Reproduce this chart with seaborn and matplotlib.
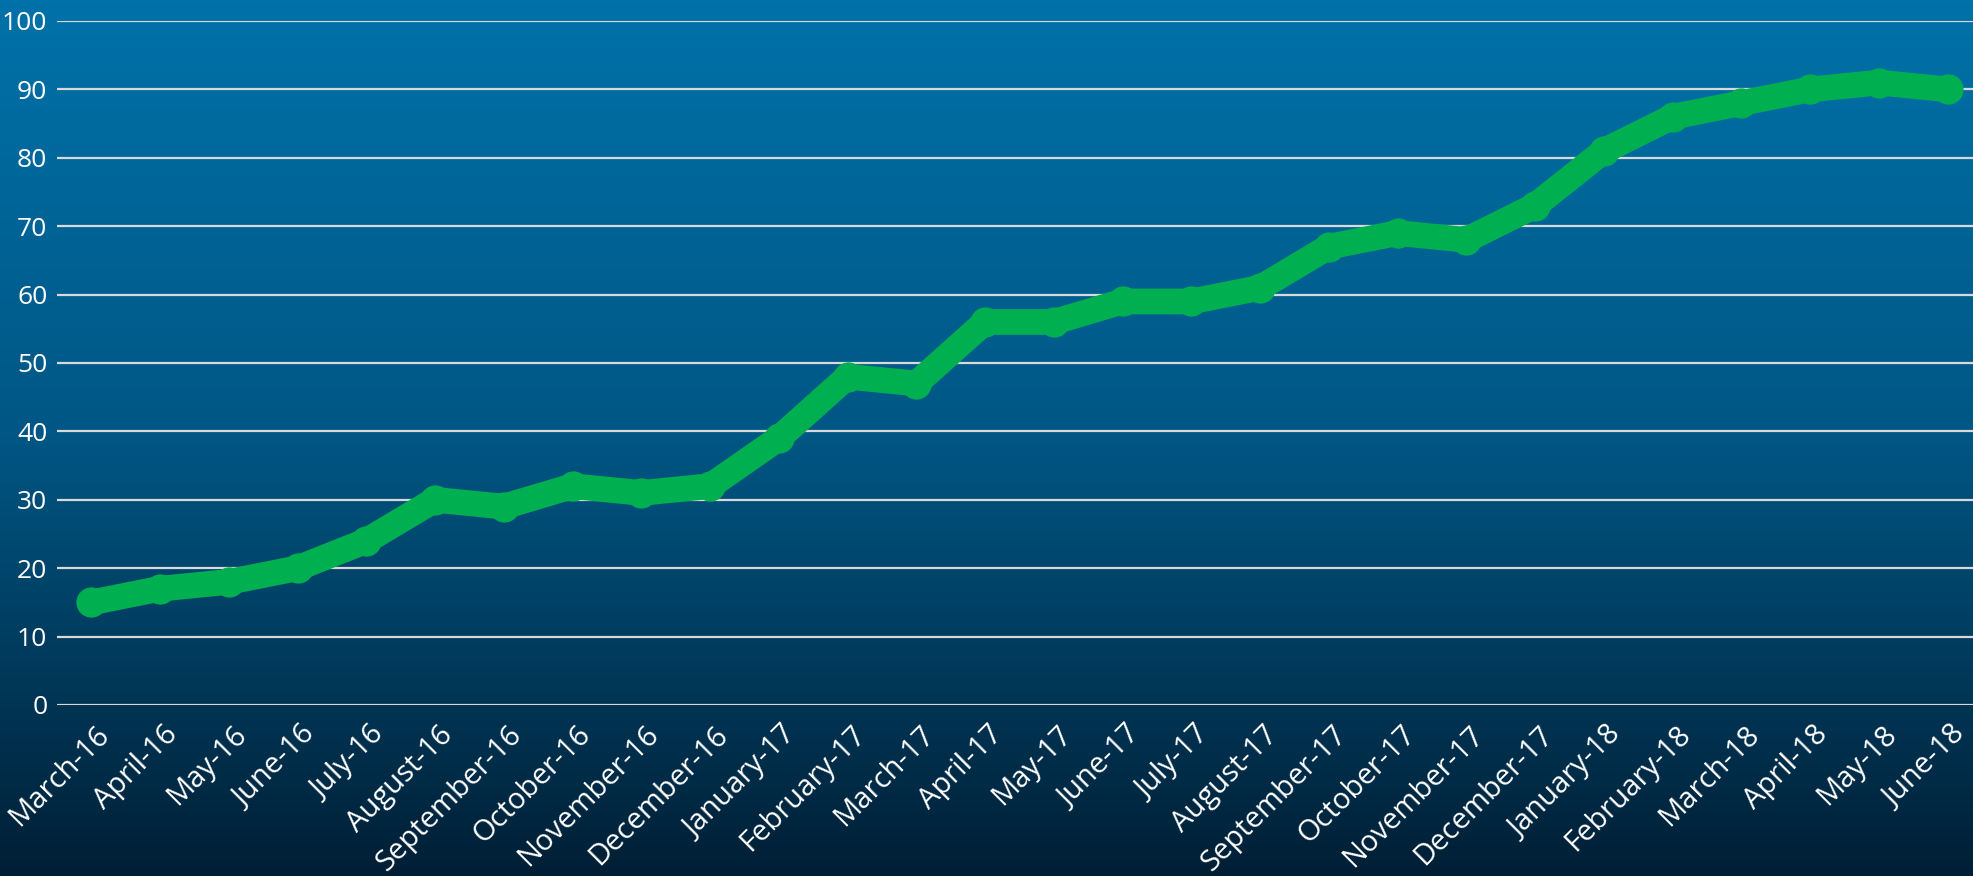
import numpy as np
import pandas as pd
import seaborn as sns
import matplotlib.pyplot as plt
from matplotlib.colors import LinearSegmentedColormap
from matplotlib.transforms import ScaledTranslation

# data
months = ['March-16', 'April-16', 'May-16', 'June-16', 'July-16', 'August-16',
          'September-16', 'October-16', 'November-16', 'December-16', 'January-17',
          'February-17', 'March-17', 'April-17', 'May-17', 'June-17', 'July-17',
          'August-17', 'September-17', 'October-17', 'November-17', 'December-17',
          'January-18', 'February-18', 'March-18', 'April-18', 'May-18', 'June-18']
values = [15, 17, 18, 20, 24, 30, 29, 32, 31, 32, 39, 48, 47, 56, 56, 59, 59,
          61, 67, 69, 68, 73, 81, 86, 88, 90, 91, 90]
y_ticks = list(range(0, 101, 10))

df = pd.DataFrame({'month': months, 'value': values})

sns.set_style('white')
plt.rcParams['font.family'] = ['Open Sans', 'DejaVu Sans']

fig = plt.figure(figsize=(19.73, 8.76), dpi=100)

# gradient background behind everything
bg = fig.add_axes([0, 0, 1, 1], zorder=0)
cmap = LinearSegmentedColormap.from_list('bg', ['#0072A9', '#005684', '#001F35'])
bg.imshow(np.linspace(0, 1, 256).reshape(-1, 1), aspect='auto', cmap=cmap,
          extent=[0, 1, 0, 1])
bg.set_axis_off()

W, H = 1973, 876
ax = fig.add_axes([57 / W, (H - 705) / H, (1982 - 57) / W, (705 - 21) / H], zorder=1)
ax.patch.set_alpha(0)

sns.lineplot(data=df, x='month', y='value', ax=ax, sort=False, color='#00B050',
             linewidth=18.5, marker='o', markersize=21, markeredgecolor='#00B050',
             solid_joinstyle='round', solid_capstyle='round', clip_on=False, zorder=3)

ax.set_xlim(-0.5, len(months) - 0.5)
ax.set_ylim(0, 100)
ax.set_yticks(y_ticks)
ax.grid(axis='y', color='#D9D9D9', linewidth=1.6, zorder=1)
ax.grid(axis='x', visible=False)
ax.set_axisbelow(True)
for s in ax.spines.values():
    s.set_visible(False)

ax.set_xlabel('')
ax.set_ylabel('')
ax.tick_params(axis='y', length=0, pad=7, labelsize=19, labelcolor='white')
ax.tick_params(axis='x', length=0, pad=11, labelsize=21, labelcolor='white')
shift = ScaledTranslation(17 / 72, 0, fig.dpi_scale_trans)
for lab in ax.get_xticklabels():
    lab.set_rotation(45)
    lab.set_ha('right')
    lab.set_va('top')
    lab.set_transform(lab.get_transform() + shift)

fig.savefig('out.png', dpi=100)
